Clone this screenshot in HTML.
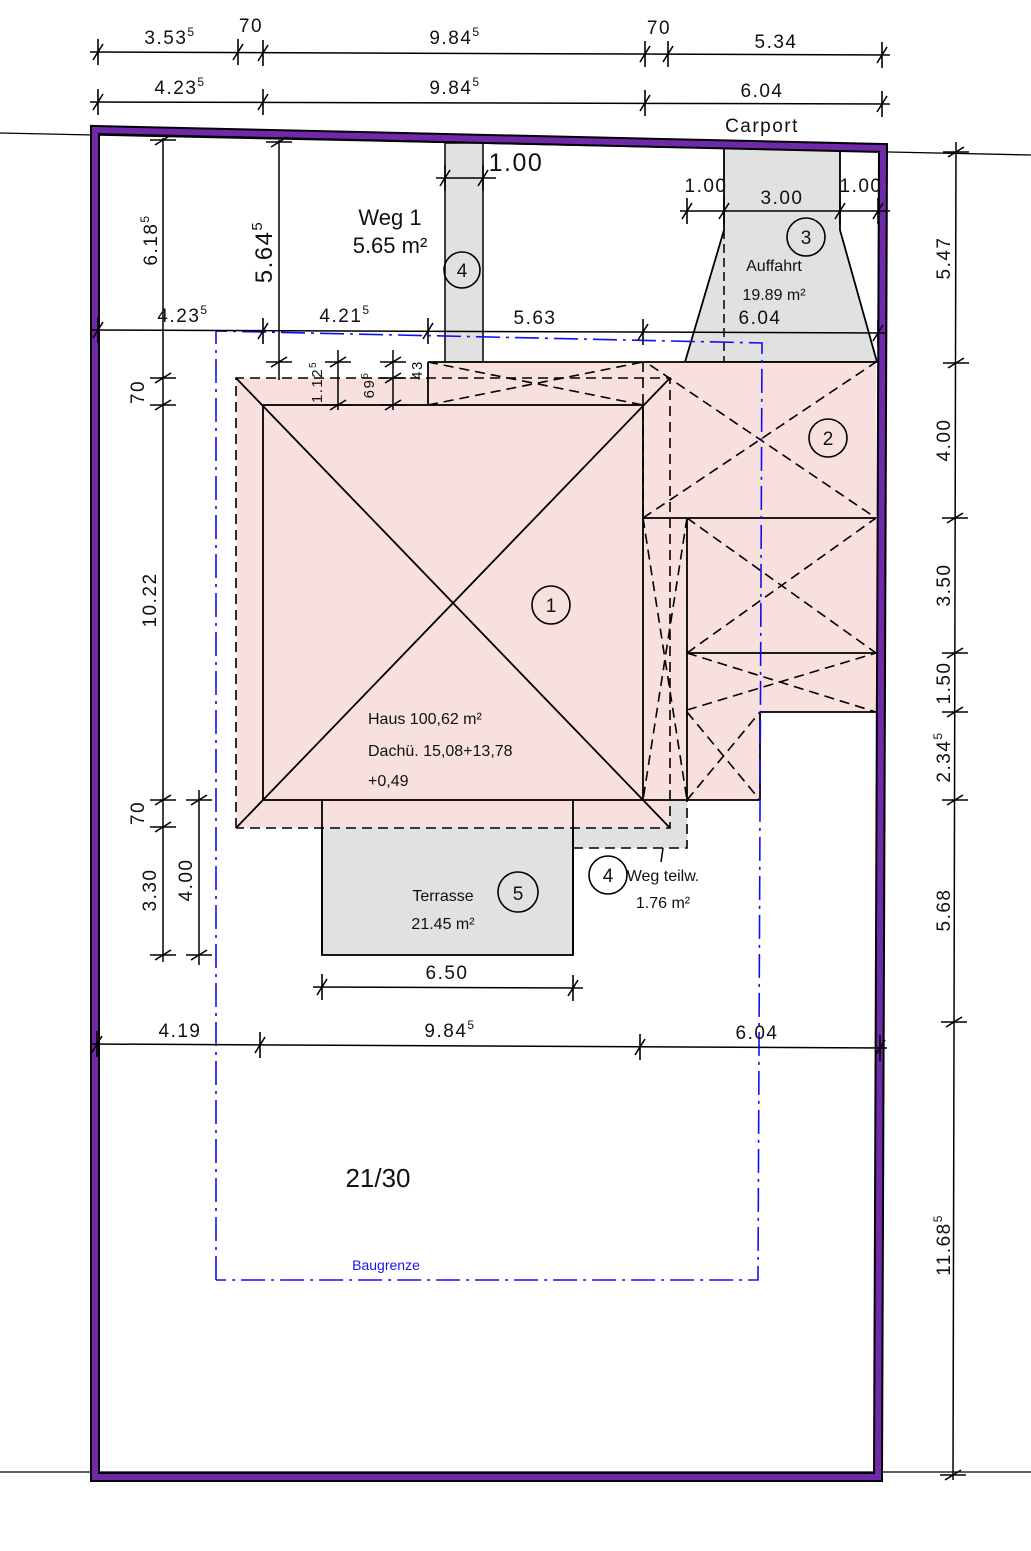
<!DOCTYPE html>
<html><head><meta charset="utf-8"><style>
html,body{margin:0;padding:0;background:#fff;}
svg{display:block;}
text{font-family:"Liberation Sans",sans-serif;fill:#111;}
.d{font-size:19px;letter-spacing:1.5px;}
</style></head><body>
<svg width="1031" height="1551" viewBox="0 0 1031 1551" xmlns="http://www.w3.org/2000/svg">
<defs>
<g id="th"><line x1="0" y1="-13" x2="0" y2="13" stroke="#000" stroke-width="1.6"/><line x1="-5" y1="8" x2="5" y2="-8" stroke="#000" stroke-width="1.6"/></g>
<g id="tv"><line x1="-13" y1="0" x2="13" y2="0" stroke="#000" stroke-width="1.6"/><line x1="-8" y1="5" x2="8" y2="-5" stroke="#000" stroke-width="1.6"/></g>
</defs>
<!-- ground lines -->
<line x1="0" y1="133" x2="1031" y2="155" stroke="#000" stroke-width="1.3"/>
<line x1="0" y1="1472" x2="1031" y2="1472" stroke="#000" stroke-width="1.3"/>

<!-- gray areas -->
<rect x="445" y="143" width="38" height="219" fill="#e1e1e1" stroke="#000" stroke-width="1.5"/>
<polygon points="724,148 840,150 840,230 877,362 685,362 724,230" fill="#e1e1e1" stroke="#000" stroke-width="1.8"/>
<line x1="724" y1="230" x2="724" y2="362" stroke="#000" stroke-width="1.5" stroke-dasharray="9,5"/>
<rect x="573" y="800" width="114" height="48" fill="#e1e1e1"/>
<rect x="322" y="800" width="251" height="155" fill="#e1e1e1" stroke="#000" stroke-width="1.8"/>

<!-- pink house -->
<polygon points="236,378 428,378 428,362 876,362 876,712 760,712 760,800 687,800 687,800 670,800 670,828 236,828" fill="#f7e0de"/>
<rect x="322" y="800" width="251" height="28" fill="#f7e0de"/>
<g stroke="#000" stroke-width="1.8" fill="none">
<rect x="263" y="405" width="380" height="395"/>
<line x1="236" y1="378" x2="670" y2="828"/>
<line x1="236" y1="828" x2="670" y2="378"/>
<line x1="428" y1="362" x2="876" y2="362"/>
<line x1="428" y1="362" x2="428" y2="405"/>
<line x1="643" y1="518" x2="876" y2="518"/>
<line x1="687" y1="518" x2="687" y2="800"/>
<line x1="687" y1="653" x2="876" y2="653"/>
<line x1="760" y1="712" x2="876" y2="712"/>
<line x1="643" y1="800" x2="760" y2="800"/>
<line x1="760" y1="712" x2="760" y2="800"/>
<line x1="322" y1="800" x2="322" y2="955"/>
<line x1="573" y1="800" x2="573" y2="955"/>
</g>
<g stroke="#000" stroke-width="1.6" fill="none" stroke-dasharray="10,6">
<polyline points="236,828 236,378 670,378 670,828 236,828"/>
<line x1="643" y1="362" x2="643" y2="518"/>
<line x1="428" y1="362" x2="643" y2="405"/>
<line x1="428" y1="405" x2="643" y2="362"/>
<line x1="643" y1="518" x2="876" y2="362"/>
<line x1="650" y1="365" x2="876" y2="518"/>
<line x1="687" y1="518" x2="876" y2="653"/>
<line x1="687" y1="653" x2="876" y2="518"/>
<line x1="687" y1="653" x2="876" y2="712"/>
<line x1="687" y1="710" x2="876" y2="653"/>
<line x1="687" y1="712" x2="760" y2="800"/>
<line x1="687" y1="800" x2="760" y2="712"/>
<line x1="643" y1="518" x2="687" y2="800"/>
<line x1="687" y1="518" x2="643" y2="800"/>
<polyline points="573,848 687,848 687,800"/>
</g>

<!-- Baugrenze -->
<polyline points="216,1280 216,331 762,343 758,1280 216,1280" fill="none" stroke="#1010ee" stroke-width="1.6" stroke-dasharray="24,6,3,6"/>
<text x="386" y="1270" font-size="14" text-anchor="middle" style="fill:#1515e8">Baugrenze</text>

<!-- property boundary -->
<polygon points="95,130 883,148 878,1477 95,1477" fill="none" stroke="#000" stroke-width="10"/>
<polygon points="95,130 883,148 878,1477 95,1477" fill="none" stroke="#7029a8" stroke-width="6"/>

<!-- top dims -->
<g stroke="#000" stroke-width="1.5">
<line x1="90" y1="52" x2="890" y2="55"/>
<line x1="90" y1="102" x2="890" y2="104"/>
<line x1="90" y1="330" x2="885" y2="333"/>
<line x1="90" y1="1044" x2="887" y2="1048"/>
<line x1="313" y1="987" x2="583" y2="988"/>
<line x1="436" y1="178" x2="496" y2="178"/>
<line x1="680" y1="211" x2="890" y2="211"/>
<line x1="163" y1="138" x2="163" y2="962"/>
<line x1="279" y1="140" x2="279" y2="380"/>
<line x1="199" y1="790" x2="199" y2="965"/>
<line x1="338" y1="350" x2="338" y2="410"/>
<line x1="393" y1="350" x2="393" y2="410"/>
<line x1="956" y1="142" x2="953" y2="1480"/>
</g>
<use href="#th" x="98" y="52"/><use href="#th" x="238" y="52"/><use href="#th" x="263" y="53"/><use href="#th" x="645" y="54"/><use href="#th" x="668" y="54"/><use href="#th" x="882" y="55"/>
<use href="#th" x="98" y="102"/><use href="#th" x="263" y="102"/><use href="#th" x="645" y="103"/><use href="#th" x="882" y="104"/>
<use href="#th" x="98" y="330"/><use href="#th" x="263" y="331"/><use href="#th" x="428" y="331"/><use href="#th" x="643" y="332"/><use href="#th" x="878" y="333"/>
<use href="#th" x="97" y="1044"/><use href="#th" x="260" y="1045"/><use href="#th" x="640" y="1047"/><use href="#th" x="880" y="1048"/>
<use href="#th" x="322" y="987"/><use href="#th" x="573" y="988"/>
<use href="#th" x="445" y="178"/><use href="#th" x="483" y="178"/>
<use href="#th" x="687" y="211"/><use href="#th" x="724" y="211"/><use href="#th" x="840" y="211"/><use href="#th" x="878" y="211"/>
<use href="#tv" x="163" y="140"/><use href="#tv" x="163" y="378"/><use href="#tv" x="163" y="405"/><use href="#tv" x="163" y="800"/><use href="#tv" x="163" y="827"/><use href="#tv" x="163" y="955"/>
<use href="#tv" x="279" y="142"/><use href="#tv" x="279" y="362"/>
<use href="#tv" x="199" y="800"/><use href="#tv" x="199" y="955"/>
<use href="#tv" x="338" y="362"/><use href="#tv" x="338" y="405"/>
<use href="#tv" x="393" y="362"/><use href="#tv" x="393" y="378"/><use href="#tv" x="393" y="405"/>
<use href="#tv" x="956" y="152"/><use href="#tv" x="956" y="363"/><use href="#tv" x="955" y="518"/><use href="#tv" x="955" y="653"/><use href="#tv" x="955" y="712"/><use href="#tv" x="955" y="800"/><use href="#tv" x="954" y="1022"/><use href="#tv" x="953" y="1475"/>

<g class="d">
<text x="170" y="44" text-anchor="middle" class="d">3.53<tspan font-size="12" dy="-8">5</tspan></text>
<text x="251" y="32" text-anchor="middle" class="d">70</text>
<text x="455" y="44" text-anchor="middle" class="d">9.84<tspan font-size="12" dy="-8">5</tspan></text>
<text x="659" y="34" text-anchor="middle" class="d">70</text>
<text x="776" y="48" text-anchor="middle" class="d">5.34</text>
<text x="180" y="94" text-anchor="middle" class="d">4.23<tspan font-size="12" dy="-8">5</tspan></text>
<text x="455" y="94" text-anchor="middle" class="d">9.84<tspan font-size="12" dy="-8">5</tspan></text>
<text x="762" y="97" text-anchor="middle" class="d">6.04</text>
<text x="762" y="132" text-anchor="middle" class="d">Carport</text>
<text x="183" y="322" text-anchor="middle" class="d">4.23<tspan font-size="12" dy="-8">5</tspan></text>
<text x="345" y="322" text-anchor="middle" class="d">4.21<tspan font-size="12" dy="-8">5</tspan></text>
<text x="535" y="324" text-anchor="middle" class="d">5.63</text>
<text x="760" y="324" text-anchor="middle" class="d">6.04</text>
<text x="180" y="1037" text-anchor="middle" class="d">4.19</text>
<text x="450" y="1037" text-anchor="middle" class="d">9.84<tspan font-size="12" dy="-8">5</tspan></text>
<text x="757" y="1039" text-anchor="middle" class="d">6.04</text>
<text x="447" y="979" text-anchor="middle" class="d">6.50</text>
<text x="706" y="192" text-anchor="middle" class="d">1.00</text>
<text x="782" y="204" text-anchor="middle" class="d">3.00</text>
<text x="861" y="192" text-anchor="middle" class="d">1.00</text>
<text x="516" y="171" text-anchor="middle" font-size="25">1.00</text>
<text x="157" y="240" text-anchor="middle" class="d" transform="rotate(-90 157 240)">6.18<tspan font-size="12" dy="-8">5</tspan></text>
<text x="272" y="252" text-anchor="middle" font-size="24" transform="rotate(-90 272 252)">5.64<tspan font-size="15" dy="-10">5</tspan></text>
<text x="144" y="392" text-anchor="middle" class="d" transform="rotate(-90 144 392)">70</text>
<text x="156" y="600" text-anchor="middle" class="d" transform="rotate(-90 156 600)">10.22</text>
<text x="144" y="813" text-anchor="middle" class="d" transform="rotate(-90 144 813)">70</text>
<text x="156" y="890" text-anchor="middle" class="d" transform="rotate(-90 156 890)">3.30</text>
<text x="192" y="880" text-anchor="middle" class="d" transform="rotate(-90 192 880)">4.00</text>
<text x="322" y="382" text-anchor="middle" font-size="15" transform="rotate(-90 322 382)">1.12<tspan font-size="10" dy="-6">5</tspan></text>
<text x="374" y="385" text-anchor="middle" font-size="15" transform="rotate(-90 374 385)">69<tspan font-size="10" dy="-6">5</tspan></text>
<text x="422" y="370" text-anchor="middle" font-size="15" transform="rotate(-90 422 370)">43</text>
<text x="950" y="258" text-anchor="middle" class="d" transform="rotate(-90 950 258)">5.47</text>
<text x="950" y="440" text-anchor="middle" class="d" transform="rotate(-90 950 440)">4.00</text>
<text x="950" y="585" text-anchor="middle" class="d" transform="rotate(-90 950 585)">3.50</text>
<text x="950" y="683" text-anchor="middle" class="d" transform="rotate(-90 950 683)">1.50</text>
<text x="950" y="757" text-anchor="middle" class="d" transform="rotate(-90 950 757)">2.34<tspan font-size="12" dy="-8">5</tspan></text>
<text x="950" y="910" text-anchor="middle" class="d" transform="rotate(-90 950 910)">5.68</text>
<text x="950" y="1245" text-anchor="middle" class="d" transform="rotate(-90 950 1245)">11.68<tspan font-size="12" dy="-8">5</tspan></text>
</g>

<!-- labels -->
<text x="390" y="225" text-anchor="middle" font-size="22">Weg 1</text>
<text x="390" y="253" text-anchor="middle" font-size="22">5.65 m²</text>
<text x="774" y="271" text-anchor="middle" font-size="16">Auffahrt</text>
<text x="774" y="300" text-anchor="middle" font-size="16">19.89 m²</text>
<text x="368" y="724" font-size="16">Haus 100,62 m²</text>
<text x="368" y="756" font-size="16">Dachü. 15,08+13,78</text>
<text x="368" y="786" font-size="16">+0,49</text>
<text x="443" y="901" text-anchor="middle" font-size="16">Terrasse</text>
<text x="443" y="929" text-anchor="middle" font-size="16">21.45 m²</text>
<text x="663" y="881" text-anchor="middle" font-size="16">Weg teilw.</text>
<text x="663" y="908" text-anchor="middle" font-size="16">1.76 m²</text>
<line x1="663" y1="848" x2="661" y2="862" stroke="#000" stroke-width="1.5"/>
<text x="378" y="1187" text-anchor="middle" font-size="26">21/30</text>

<g fill="none" stroke="#000" stroke-width="1.6">
<circle cx="462" cy="270" r="18"/><circle cx="806" cy="237" r="19"/><circle cx="828" cy="438" r="19"/>
<circle cx="551" cy="605" r="19"/><circle cx="518" cy="892" r="20"/><circle cx="608" cy="875" r="19"/>
</g>
<g font-size="19" text-anchor="middle">
<text x="462" y="277">4</text><text x="806" y="244">3</text><text x="828" y="445">2</text>
<text x="551" y="612">1</text><text x="518" y="900">5</text><text x="608" y="882">4</text>
</g>
</svg>
</body></html>
